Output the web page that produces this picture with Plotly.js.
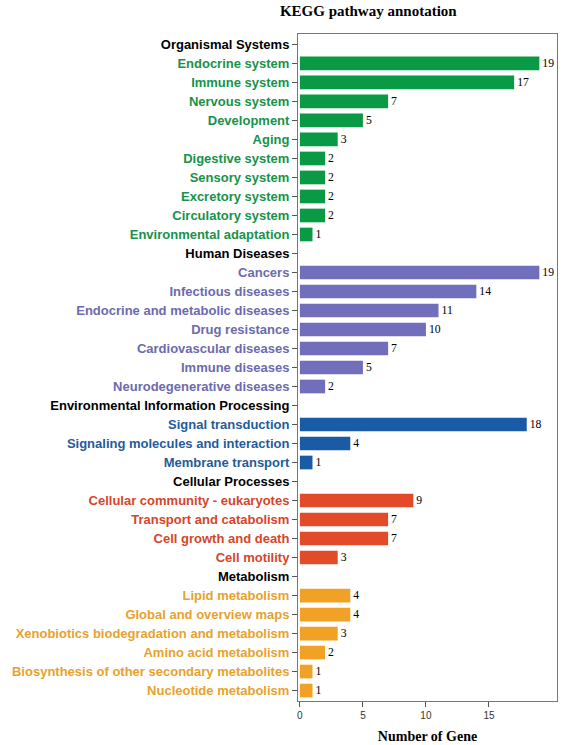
<!DOCTYPE html>
<html><head><meta charset="utf-8">
<script src="https://cdn.plot.ly/plotly-3.0.1.min.js"></script>
<style>body{margin:0;background:#fff}#chart{width:580px;height:745px}</style>
</head><body><div id="chart"></div>
<script>
const categories = [
 "Organismal Systems","Endocrine system","Immune system","Nervous system","Development","Aging","Digestive system","Sensory system","Excretory system","Circulatory system","Environmental adaptation",
 "Human Diseases","Cancers","Infectious diseases","Endocrine and metabolic diseases","Drug resistance","Cardiovascular diseases","Immune diseases","Neurodegenerative diseases",
 "Environmental Information Processing","Signal transduction","Signaling molecules and interaction","Membrane transport",
 "Cellular Processes","Cellular community - eukaryotes","Transport and catabolism","Cell growth and death","Cell motility",
 "Metabolism","Lipid metabolism","Global and overview maps","Xenobiotics biodegradation and metabolism","Amino acid metabolism","Biosynthesis of other secondary metabolites","Nucleotide metabolism"
];
const values = [
 null,19,17,7,5,3,2,2,2,2,1,
 null,19,14,11,10,7,5,2,
 null,18,4,1,
 null,9,7,7,3,
 null,4,4,3,2,1,1
];
const groups = [
 "H","OS","OS","OS","OS","OS","OS","OS","OS","OS","OS",
 "H","HD","HD","HD","HD","HD","HD","HD",
 "H","EIP","EIP","EIP",
 "H","CP","CP","CP","CP",
 "H","M","M","M","M","M","M"
];
const barColors = {H:"#000000",OS:"#0a9a45",HD:"#716fbb",EIP:"#1a5ba6",CP:"#e24a28",M:"#f0a126"};
const textColors = {H:"#000000",OS:"#17924a",HD:"#6c6aae",EIP:"#1f5c99",CP:"#d6452a",M:"#e8a22c"};

const ids = categories.map((c,i)=>i);
const ticktext = categories.map((c,i)=>`<span style="color:${textColors[groups[i]]}">${c}</span>`);

const trace = {
  type:"bar", orientation:"h",
  x: values, y: ids,
  marker:{color: groups.map(g=>barColors[g])},
  text: values.map(v=>v==null?"":String(v)),
  textposition:"outside", cliponaxis:false,
  textfont:{family:"Liberation Serif, Times New Roman, serif", size:12, color:"#000"},
  hoverinfo:"none"
};
const layout = {
  width:580, height:745,
  margin:{l:298,r:23,t:34,b:44},
  paper_bgcolor:"#fff", plot_bgcolor:"#fff",
  showlegend:false, bargap:0.28,
  title:{text:"<b>KEGG pathway annotation</b>", x:0.635, xanchor:"center", y:0.992, yanchor:"top",
    font:{family:"Liberation Serif, Times New Roman, serif", size:15, color:"#000"}},
  xaxis:{range:[-0.15,20.4], tickvals:[0,5,10,15], ticks:"outside", ticklen:5, tickcolor:"#555",
    showgrid:false, zeroline:false, showline:true, linecolor:"#777", linewidth:1, mirror:true,
    tickfont:{family:"Liberation Sans, Arial, sans-serif", size:10, color:"#333"},
    title:{text:"<b>Number of Gene</b>", standoff:11, font:{family:"Liberation Serif, Times New Roman, serif", size:14, color:"#000"}}},
  yaxis:{autorange:false, range:[categories.length-0.45,-0.55], tickmode:"array", tickvals:ids, ticktext:ticktext,
    ticks:"outside", ticklen:5, tickcolor:"#555", showgrid:false, zeroline:false,
    showline:true, linecolor:"#777", linewidth:1, mirror:true,
    tickfont:{family:"Liberation Sans, Arial, sans-serif", size:13, color:"#000", weight:"bold"}}
};
Plotly.newPlot("chart",[trace],layout,{displayModeBar:false,staticPlot:true});
</script></body></html>
